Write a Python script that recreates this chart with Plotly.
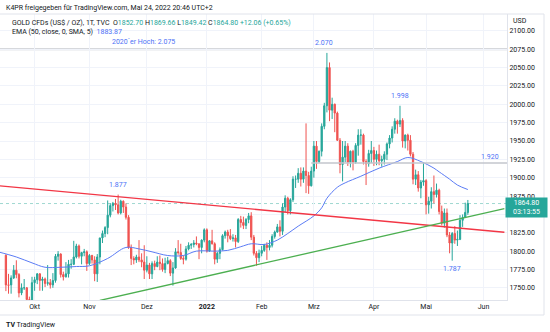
import pandas as pd
import plotly.graph_objects as go

# ---------------- data ----------------
holidays = ["2022-04-15"]
dates = [d for d in pd.bdate_range("2021-09-16", "2022-05-24") if d.strftime("%Y-%m-%d") not in holidays]

opens = [
    1794.3, 1754.0, 1754.0, 1763.5, 1774.0, 1768.0, 1743.0, 1750.0, 1750.0, 1734.0, 1726.0,
    1757, 1761, 1769, 1760, 1762, 1756, 1757, 1754, 1760, 1793, 1796, 1768, 1765, 1769, 1782, 1782, 1792, 1807, 1793, 1798, 1799,
    1783, 1794, 1788, 1769, 1792, 1818, 1824, 1832, 1849, 1862, 1865, 1863, 1852, 1868, 1860, 1846, 1805, 1790, 1788, 1792, 1788, 1785,
    1774, 1781, 1769, 1783, 1779, 1785, 1783, 1775, 1783, 1787, 1770, 1777, 1799, 1798, 1790, 1789, 1803, 1808, 1809, 1811, 1810, 1805, 1815,
    1829, 1800, 1814, 1810, 1789, 1797, 1802, 1821, 1826, 1821, 1817, 1818, 1813, 1843, 1839, 1835, 1843, 1848, 1819, 1797, 1791,
    1797, 1801, 1808, 1805, 1808, 1820, 1826, 1833, 1827, 1860, 1872, 1855, 1870, 1898, 1898, 1906, 1898, 1909, 1903, 1889,
    1909, 1943, 1922, 1936, 1970, 1998, 2050, 1992, 2000, 1988, 1951, 1918, 1928, 1943, 1921, 1936, 1921, 1944, 1958, 1958, 1922, 1919, 1933,
    1937, 1925, 1932, 1923, 1925, 1932, 1946, 1954, 1966, 1977, 1973, 1978, 1950, 1958, 1951, 1932, 1898, 1904, 1886, 1894,
    1896, 1863, 1868, 1881, 1877, 1883, 1854, 1838, 1852, 1822, 1811, 1824, 1815, 1816, 1842, 1846, 1852.70,
]
highs = [
    1795.5, 1769.0, 1767.0, 1781.0, 1787.5, 1770.0, 1756.0, 1762.0, 1751.0, 1738.0, 1765.0,
    1765, 1770, 1770, 1765, 1764, 1781, 1762, 1770, 1796, 1800, 1797, 1772, 1785, 1788, 1789, 1814, 1810, 1809, 1799, 1803, 1801,
    1796, 1795, 1793, 1796, 1818, 1828, 1834, 1869, 1865, 1867, 1871, 1877, 1870, 1869, 1865, 1849, 1809, 1793, 1795, 1815, 1797, 1808,
    1793, 1784, 1786, 1787, 1793, 1794, 1790, 1791, 1792, 1789, 1785, 1804, 1815, 1810, 1794, 1807, 1812, 1811, 1815, 1820, 1810, 1816, 1831,
    1831, 1815, 1829, 1812, 1799, 1805, 1823, 1828, 1829, 1830, 1823, 1822, 1845, 1848, 1847, 1845, 1852, 1853, 1822, 1800, 1802,
    1807, 1810, 1812, 1815, 1823, 1828, 1837, 1842, 1865, 1876, 1874, 1872, 1902, 1903, 1913, 1914, 1914, 1974, 1908, 1915,
    1950, 1950, 1937, 1974, 2002, 2070, 2057, 2009, 2001, 1990, 1954, 1950, 1950, 1947, 1937, 1938, 1947, 1966, 1966, 1960, 1925, 1938, 1950,
    1942, 1937, 1945, 1930, 1936, 1948, 1958, 1970, 1981, 1979, 1998, 1981, 1959, 1960, 1958, 1935, 1911, 1909, 1897, 1920,
    1898, 1874, 1887, 1903, 1892, 1885, 1862, 1858, 1858, 1826, 1826, 1834, 1828, 1849, 1850, 1866, 1869.66,
]
lows = [
    1745.5, 1742.0, 1742.0, 1762.0, 1763.0, 1737.0, 1740.0, 1747.0, 1726.0, 1721.7, 1722.0,
    1746, 1755, 1746, 1746, 1751, 1753, 1749, 1750, 1757, 1787, 1764, 1760, 1764, 1764, 1776, 1781, 1790, 1790, 1782, 1793, 1773,
    1781, 1783, 1759, 1758, 1782, 1811, 1819, 1823, 1846, 1854, 1856, 1850, 1850, 1852, 1843, 1803, 1781, 1782, 1784, 1785, 1778, 1762,
    1771, 1762, 1762, 1774, 1778, 1774, 1772, 1770, 1782, 1766, 1753, 1776, 1795, 1788, 1782, 1787, 1801, 1803, 1805, 1808, 1789, 1797, 1812,
    1798, 1799, 1809, 1782, 1784, 1789, 1801, 1817, 1812, 1815, 1813, 1805, 1811, 1832, 1830, 1830, 1838, 1815, 1794, 1780, 1785,
    1793, 1799, 1788, 1801, 1805, 1817, 1825, 1820, 1822, 1853, 1850, 1850, 1867, 1886, 1893, 1888, 1893, 1879, 1878, 1888,
    1900, 1912, 1920, 1929, 1966, 1989, 1977, 1980, 1962, 1950, 1906, 1895, 1921, 1916, 1914, 1910, 1919, 1930, 1945, 1918, 1890, 1915, 1920,
    1916, 1917, 1917, 1915, 1918, 1924, 1940, 1948, 1960, 1960, 1969, 1941, 1940, 1937, 1929, 1891, 1890, 1881, 1872, 1889,
    1850, 1851, 1858, 1865, 1873, 1850, 1835, 1832, 1819, 1797, 1787, 1810, 1807, 1815, 1833, 1845, 1849.42,
]
closes = [
    1754.0, 1753.5, 1763.5, 1774.0, 1768.0, 1743.0, 1750.0, 1750.0, 1734.0, 1726.0, 1757.0,
    1761, 1769, 1760, 1762, 1756, 1757, 1754, 1760, 1793, 1796, 1768, 1765, 1769, 1782, 1782, 1792, 1807, 1793, 1798, 1799, 1783,
    1794, 1788, 1769, 1792, 1818, 1824, 1832, 1849, 1862, 1865, 1863, 1852, 1868, 1860, 1846, 1805, 1790, 1788, 1792, 1788, 1785, 1774,
    1781, 1769, 1783, 1779, 1785, 1783, 1775, 1783, 1787, 1770, 1777, 1799, 1798, 1790, 1789, 1803, 1808, 1809, 1811, 1810, 1805, 1815, 1829,
    1800, 1814, 1810, 1789, 1797, 1802, 1821, 1826, 1821, 1817, 1818, 1813, 1843, 1839, 1835, 1843, 1848, 1819, 1797, 1791, 1797,
    1801, 1808, 1805, 1808, 1820, 1826, 1833, 1827, 1860, 1872, 1855, 1870, 1898, 1898, 1906, 1898, 1909, 1903, 1889, 1909,
    1943, 1922, 1936, 1970, 1998, 2050, 1992, 2000, 1988, 1951, 1918, 1928, 1943, 1921, 1936, 1921, 1944, 1958, 1958, 1922, 1919, 1933, 1937,
    1925, 1932, 1923, 1925, 1932, 1946, 1954, 1966, 1977, 1973, 1978, 1950, 1958, 1951, 1932, 1898, 1904, 1886, 1894, 1896,
    1863, 1868, 1881, 1877, 1883, 1854, 1838, 1852, 1822, 1811, 1824, 1815, 1816, 1842, 1846, 1852.74, 1864.80,
]
assert len(dates) == len(opens) == len(highs) == len(lows) == len(closes)

ema_dates = ["2021-09-13", "2021-09-22", "2021-09-30", "2021-10-07", "2021-10-15", "2021-10-25",
             "2021-11-01", "2021-11-10", "2021-11-19", "2021-11-26", "2021-12-03", "2021-12-13",
             "2021-12-21", "2021-12-28", "2022-01-06", "2022-01-13", "2022-01-20", "2022-01-26",
             "2022-02-02", "2022-02-09", "2022-02-15", "2022-02-21", "2022-03-01", "2022-03-04",
             "2022-03-08", "2022-03-14", "2022-03-17", "2022-03-25", "2022-04-05", "2022-04-14",
             "2022-04-21", "2022-04-28", "2022-05-05", "2022-05-09", "2022-05-13", "2022-05-18", "2022-05-24"]
ema_values = [1799, 1792, 1784, 1778, 1778, 1779,
              1780, 1790, 1805, 1803, 1799, 1794,
              1794, 1800, 1800, 1801, 1806, 1810,
              1809, 1815, 1824, 1834, 1848, 1859,
              1872, 1887, 1893, 1902, 1913, 1922,
              1927.5, 1922, 1913, 1908, 1898, 1890, 1883.87]

red_line_dates = ["2021-09-13", "2022-06-13"]
red_line_prices = [1889.0, 1825.7]
green_line_dates = ["2021-11-05", "2022-06-13"]
green_line_prices = [1732.8, 1858.0]
level_2075 = 2075
level_1920 = 1920
level_1920_start = "2022-02-28"

peak_labels = [("2021-11-16", 1877, "1.877", "top"), ("2022-03-08", 2070, "2.070", "top"),
               ("2022-04-18", 1998, "1.998", "top"), ("2022-05-16", 1787, "1.787", "bottom")]

month_ticks = ["2021-10-01", "2021-11-01", "2021-12-01", "2022-01-03", "2022-02-01",
               "2022-03-01", "2022-04-01", "2022-05-02", "2022-06-01"]
month_labels = ["Okt", "Nov", "Dez", "<b>2022</b>", "Feb", "Mrz", "Apr", "Mai", "Jun"]
price_ticks = list(range(1750, 2101, 25))
hidden_price_labels = [1850]  # covered by the last-price tag in the original
price_labels = ["" if p in hidden_price_labels else f"{p:.2f}" for p in price_ticks]

x_range = ["2021-09-13 17:45", "2022-06-14 00:00"]
y_range = [1733.4, 2123.0]

# ---------------- style ----------------
GREEN = "#26a69a"
RED = "#ef5350"
BLUE = "#4d72f6"
TXT = "#131722"
GRID = "#f0f3fa"
BORDER = "#e0e3eb"
FONT = "Roboto"

W, H = 550, 332
ML, MR, MT, MB = 0, 43, 14, 32
PW, PH = W - ML - MR, H - MT - MB


def px(xpix):
    return (xpix - ML) / PW


def py(ypix):
    return (H - MB - ypix) / PH


fig = go.Figure()

fig.add_trace(go.Candlestick(
    x=dates, open=opens, high=highs, low=lows, close=closes,
    increasing=dict(line=dict(color=GREEN, width=1), fillcolor=GREEN),
    decreasing=dict(line=dict(color=RED, width=1), fillcolor=RED),
    whiskerwidth=0, hoverinfo="skip"))

fig.add_trace(go.Scatter(x=ema_dates, y=ema_values, mode="lines",
                         line=dict(color="#5b7cf5", width=1, shape="spline"), hoverinfo="skip"))
fig.add_trace(go.Scatter(x=[level_1920_start, x_range[1]], y=[level_1920, level_1920], mode="lines",
                         line=dict(color="#c3c6cc", width=1.5), hoverinfo="skip"))
fig.add_trace(go.Scatter(x=red_line_dates, y=red_line_prices, mode="lines",
                         line=dict(color="#f23645", width=1.3), hoverinfo="skip"))
fig.add_trace(go.Scatter(x=green_line_dates, y=green_line_prices, mode="lines",
                         line=dict(color="#4caf50", width=1.3), hoverinfo="skip"))

shapes = [
    dict(type="line", xref="paper", yref="y", x0=0, x1=1, y0=level_2075, y1=level_2075,
         line=dict(color="#c8cbd1", width=2), layer="below"),
    dict(type="line", xref="paper", yref="y", x0=0, x1=1, y0=closes[-1], y1=closes[-1],
         line=dict(color="#9fd8d1", width=1, dash="dot"), layer="below"),
    # frame of the price / time scale areas
    dict(type="line", xref="paper", yref="paper", x0=0, x1=px(544), y0=1, y1=1,
         line=dict(color=BORDER, width=1)),
    dict(type="line", xref="paper", yref="paper", x0=px(544), x1=px(544), y0=py(315), y1=1,
         line=dict(color=BORDER, width=1)),
    dict(type="line", xref="paper", yref="paper", x0=0, x1=px(544), y0=py(315), y1=py(315),
         line=dict(color=BORDER, width=1)),
]

chg = closes[-1] - closes[-2]
pct = chg / closes[-2] * 100


def val(v):
    return f"<span style='color:{GREEN}'>{v:.2f}</span>"


legend2 = ("GOLD CFDs (US$ / OZ), 1T, TVC  O" + val(opens[-1]) + " H" + val(highs[-1]) +
           " L" + val(lows[-1]) + " C" + val(closes[-1]) +
           f" <span style='color:{GREEN}'>+{chg:.2f} (+{pct:.2f}%)</span>")
legend3 = f"EMA (50, close, 0, SMA, 5)  <span style='color:{BLUE}'>{ema_values[-1]:.2f}</span>"

annotations = [
    dict(text="K4PR freigegeben für TradingView.com, Mai 24, 2022 20:46 UTC+2",
         xref="paper", yref="paper", x=px(4), y=py(8), xanchor="left", yanchor="middle",
         showarrow=False, font=dict(size=7, color=TXT, family=FONT)),
    dict(text=legend2, xref="paper", yref="paper", x=px(10), y=py(23), xanchor="left", yanchor="middle",
         showarrow=False, font=dict(size=7, color=TXT, family=FONT)),
    dict(text=legend3, xref="paper", yref="paper", x=px(10), y=py(32), xanchor="left", yanchor="middle",
         showarrow=False, font=dict(size=7, color=TXT, family=FONT)),
    dict(text="USD", xref="paper", yref="paper", x=px(511), y=py(21), xanchor="left", yanchor="middle",
         showarrow=False, font=dict(size=7, color=TXT, family=FONT)),
    dict(text="2020´er Hoch: 2.075", xref="paper", yref="y", x=px(143), y=level_2075,
         xanchor="center", yanchor="bottom", yshift=1, showarrow=False,
         font=dict(size=7, color=BLUE, family=FONT)),
    dict(text="1.920", xref="paper", yref="y", x=px(490), y=level_1920,
         xanchor="center", yanchor="bottom", yshift=0, showarrow=False,
         font=dict(size=7, color=BLUE, family=FONT)),
    dict(text=f"{closes[-1]:.2f}<br>03:13:55", xref="paper", yref="y", x=px(526.5), y=closes[-1],
         xanchor="center", yanchor="middle", yshift=-3.5, showarrow=False, bgcolor=GREEN,
         borderpad=1, width=39, font=dict(size=7, color="white", family=FONT)),
    dict(text="<b>TV</b> TradingView", xref="paper", yref="paper", x=px(4), y=py(325),
         xanchor="left", yanchor="middle", showarrow=False, font=dict(size=7, color=TXT, family=FONT)),
]
for d, p, t, pos in peak_labels:
    annotations.append(dict(text=t, x=d, y=p, xref="x", yref="y", showarrow=False,
                            xanchor="center", yanchor="bottom" if pos == "top" else "top",
                            yshift=4 if pos == "top" else -2, xshift=-3 if t == "2.070" else 0,
                            font=dict(size=7, color=BLUE, family=FONT)))

fig.update_layout(
    width=W, height=H, margin=dict(l=ML, r=MR, t=MT, b=MB),
    paper_bgcolor="white", plot_bgcolor="white", showlegend=False, hovermode=False,
    shapes=shapes, annotations=annotations,
    font=dict(family=FONT, size=7, color=TXT),
)
fig.update_xaxes(type="date", range=x_range,
                 rangebreaks=[dict(bounds=["sat", "mon"]), dict(values=holidays)],
                 tickvals=month_ticks, ticktext=month_labels, ticks="",
                 showgrid=True, gridcolor=GRID, gridwidth=1,
                 showline=True, linecolor=BORDER, zeroline=False,
                 tickfont=dict(size=7, color=TXT, family=FONT),
                 rangeslider=dict(visible=False), fixedrange=True)
fig.update_yaxes(side="right", range=y_range, tickvals=price_ticks, ticktext=price_labels, ticks="",
                 showgrid=True, gridcolor=GRID, gridwidth=1,
                 showline=True, linecolor=BORDER, zeroline=False,
                 tickfont=dict(size=7, color=TXT, family=FONT), fixedrange=True)

fig.write_html("out.html", config=dict(displayModeBar=False))
